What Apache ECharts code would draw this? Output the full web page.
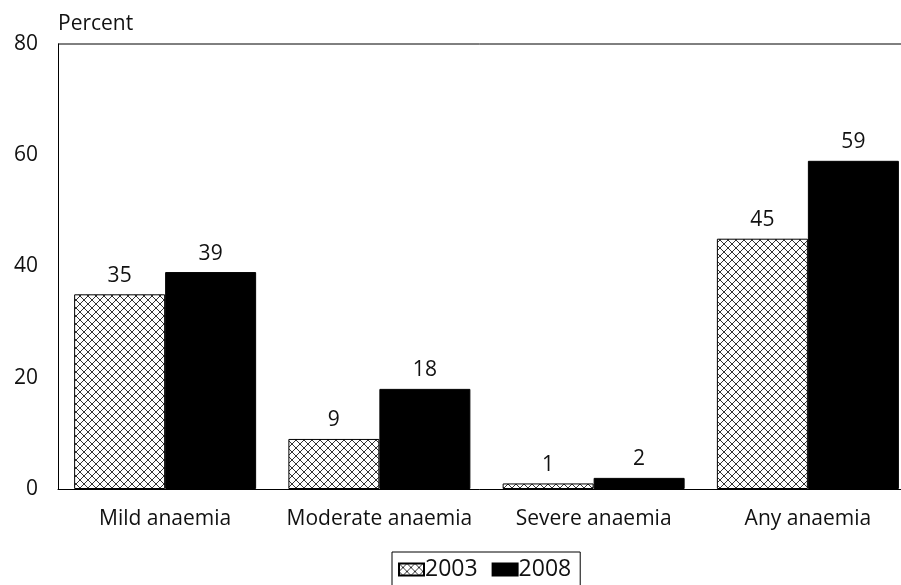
<!DOCTYPE html>
<html>
<head>
<meta charset="utf-8">
<style>
  html, body { margin: 0; padding: 0; background: #fff; }
  #chart { width: 901px; height: 585px; }
</style>
<script src="https://cdn.jsdelivr.net/npm/echarts@6/dist/echarts.min.js"></script>
</head>
<body>
<div id="chart"></div>
<script>
const categories = ['Mild anaemia', 'Moderate anaemia', 'Severe anaemia', 'Any anaemia'];
const values2003 = [35, 9, 1, 45];
const values2008 = [39, 18, 2, 59];
const yTicks = [0, 20, 40, 60, 80];

const FONT = '"Open Sans", Lato, sans-serif';

// Cross-hatch tile for the 2003 bars
function makeHatch() {
  const size = 8;
  const c = document.createElement('canvas');
  c.width = size; c.height = size;
  const g = c.getContext('2d');
  g.fillStyle = '#fff';
  g.fillRect(0, 0, size, size);
  g.strokeStyle = '#333';
  g.lineWidth = 1;
  g.beginPath();
  g.moveTo(0, 0); g.lineTo(size, size);
  g.moveTo(size, 0); g.lineTo(0, size);
  g.stroke();
  return c;
}
const hatch = { image: makeHatch(), repeat: 'repeat' };

const chart = echarts.init(document.getElementById('chart'));

const labelStyle = {
  show: true,
  position: 'top',
  distance: 8,
  color: '#111',
  fontFamily: FONT,
  fontSize: 21
};

chart.setOption({
  animation: false,
  grid: { left: 58, top: 44, width: 857, bottom: 96, outerBoundsMode: 'none', containLabel: false },
  legend: {
    top: 552,
    left: 392,
    data: ['2003', '2008'],
    orient: 'horizontal',
    icon: 'rect',
    borderColor: '#000',
    borderWidth: 1,
    padding: [6, 9, 30, 6],
    itemWidth: 25,
    itemHeight: 12,
    itemGap: 14,
    textStyle: { fontFamily: FONT, fontSize: 23, color: '#111', padding: [0, 0, 0, -4] }
  },
  xAxis: {
    type: 'category',
    data: categories,
    axisLine: { lineStyle: { color: '#000', width: 1 } },
    axisTick: { show: false },
    axisLabel: { interval: 0, color: '#111', fontFamily: FONT, fontSize: 21, margin: 20 }
  },
  yAxis: {
    type: 'value',
    min: yTicks[0],
    max: yTicks[yTicks.length - 1],
    interval: 20,
    name: 'Percent',
    nameLocation: 'end',
    nameGap: 9,
    nameTextStyle: { color: '#111', fontFamily: FONT, fontSize: 21, align: 'left' },
    axisLine: { show: true, lineStyle: { color: '#000', width: 1 } },
    axisTick: { show: false },
    splitLine: { show: false },
    axisLabel: { color: '#111', fontFamily: FONT, fontSize: 21, margin: 20 }
  },
  graphic: [{
    type: 'line',
    shape: { x1: 58, y1: 44, x2: 901, y2: 44 },
    style: { stroke: '#000', lineWidth: 1 }
  }],
  series: [
    {
      name: '2003',
      type: 'bar',
      data: values2003,
      barWidth: 91,
      barGap: '0%',
      itemStyle: { color: hatch, borderColor: '#000', borderWidth: 1 },
      label: labelStyle
    },
    {
      name: '2008',
      type: 'bar',
      data: values2008,
      barWidth: 91,
      barGap: '0%',
      itemStyle: { color: '#000', borderColor: '#000', borderWidth: 1 },
      label: labelStyle
    }
  ]
});
</script>
</body>
</html>
